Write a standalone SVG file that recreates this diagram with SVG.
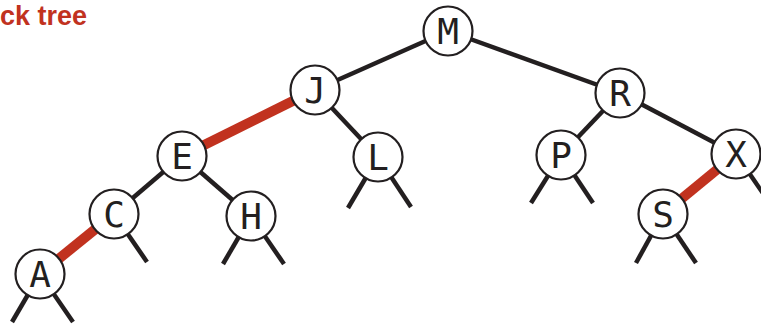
<svg xmlns="http://www.w3.org/2000/svg" width="761" height="325" viewBox="0 0 761 325">
<style>
.e{stroke:#231f20;stroke-width:4.5;fill:none}
.r{stroke:#c1321f;stroke-width:10;fill:none}
.n circle{fill:#fff;stroke:#231f20;stroke-width:2.2}
.n text{font-family:"DejaVu Sans Mono",monospace;font-size:36px;fill:#231f20;text-anchor:middle}
.t{font-family:"Liberation Sans",Arial,sans-serif;font-weight:bold;font-size:27px;fill:#c1321f}
</style>
<rect width="761" height="325" fill="#fff"/>
<text class="t" x="0" y="25">ck tree</text>
<g id="connectors">
<line class="e" x1="448" y1="31" x2="315" y2="90"/>
<line class="e" x1="448" y1="31" x2="620" y2="93"/>
<line class="r" x1="315" y1="90" x2="182" y2="156"/>
<line class="e" x1="315" y1="90" x2="378" y2="157"/>
<line class="e" x1="182" y1="156" x2="114" y2="214"/>
<line class="e" x1="182" y1="156" x2="251" y2="216"/>
<line class="r" x1="114" y1="214" x2="40" y2="274"/>
<line class="e" x1="620" y1="93" x2="561" y2="155"/>
<line class="e" x1="620" y1="93" x2="736" y2="154"/>
<line class="r" x1="736" y1="154" x2="663" y2="214"/>
<line class="e" x1="40" y1="274" x2="12" y2="322"/>
<line class="e" x1="40" y1="274" x2="73" y2="322"/>
<line class="e" x1="114" y1="214" x2="147" y2="262"/>
<line class="e" x1="251" y1="216" x2="223" y2="264"/>
<line class="e" x1="251" y1="216" x2="284" y2="264"/>
<line class="e" x1="378" y1="157" x2="348" y2="208"/>
<line class="e" x1="378" y1="157" x2="411" y2="207"/>
<line class="e" x1="561" y1="155" x2="531" y2="203"/>
<line class="e" x1="561" y1="155" x2="593" y2="203"/>
<line class="e" x1="663" y1="214" x2="636" y2="263"/>
<line class="e" x1="663" y1="214" x2="696" y2="263"/>
<line class="e" x1="736" y1="154" x2="769" y2="202"/>
</g>
<g id="node-M" class="n"><circle cx="448" cy="31" r="24.5"/><text x="448" y="44">M</text></g>
<g id="node-J" class="n"><circle cx="315" cy="90" r="24.5"/><text x="315" y="103">J</text></g>
<g id="node-R" class="n"><circle cx="620" cy="93" r="24.5"/><text x="620" y="106">R</text></g>
<g id="node-E" class="n"><circle cx="182" cy="156" r="24.5"/><text x="182" y="169">E</text></g>
<g id="node-L" class="n"><circle cx="378" cy="157" r="24.5"/><text x="378" y="170">L</text></g>
<g id="node-P" class="n"><circle cx="561" cy="155" r="24.5"/><text x="561" y="168">P</text></g>
<g id="node-X" class="n"><circle cx="736" cy="154" r="24.5"/><text x="736" y="167">X</text></g>
<g id="node-C" class="n"><circle cx="114" cy="214" r="24.5"/><text x="114" y="227">C</text></g>
<g id="node-H" class="n"><circle cx="251" cy="216" r="24.5"/><text x="251" y="229">H</text></g>
<g id="node-S" class="n"><circle cx="663" cy="214" r="24.5"/><text x="663" y="227">S</text></g>
<g id="node-A" class="n"><circle cx="40" cy="274" r="24.5"/><text x="40" y="287">A</text></g>
</svg>
